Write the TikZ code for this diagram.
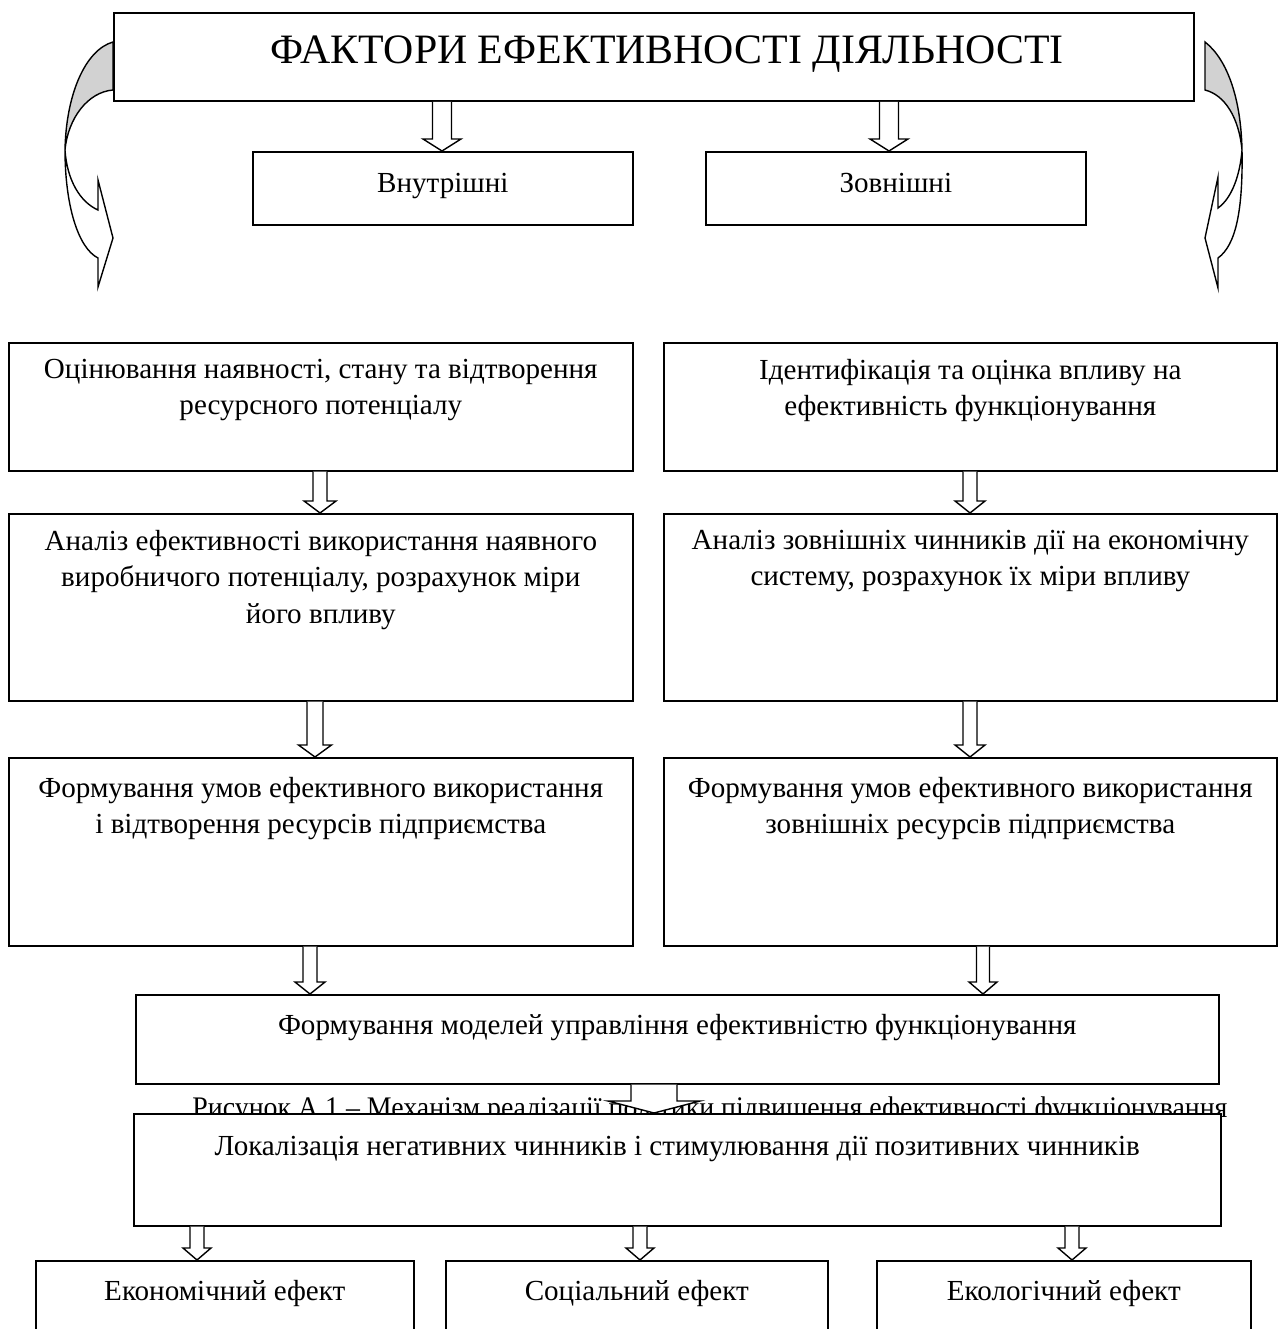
\documentclass[tikz,border=0pt]{standalone}
\usepackage{fontspec}
\setmainfont{Liberation Serif}
\usetikzlibrary{positioning,calc}
\pgfdeclarelayer{bg}
\pgfsetlayers{bg,main}

\tikzset{
  box/.style={draw, line width=1.6bp, fill=white, inner sep=0pt, anchor=north west},
  txt/.style={font=\fontsize{29.2}{36.5}\selectfont, align=center, inner sep=0pt},
  hollow/.style={draw, line width=1.4bp, fill=white, line join=miter},
  ribbon/.style={draw, line width=1.4bp, line join=miter},
}

% hollow block arrow: x, from node, to node, shaft half width, head half width
\newcommand{\hollowdown}[5]{%
  \path (#2.south -| #1,0) coordinate (aa) (#3.north -| #1,0) coordinate (bb);
  \draw[hollow] ($(aa)+(-#4,0)$) -- ($(bb)+(-#4,-12)$) -- ($(bb)+(-#5,-12)$) -- (bb)
    -- ($(bb)+(#5,-12)$) -- ($(bb)+(#4,-12)$) -- ($(aa)+(#4,0)$);
}

\begin{document}
\begin{tikzpicture}[x=1bp, y=-1bp]
    \useasboundingbox (0,0) rectangle (1278,1329);

    % Curved arrows
    \draw[ribbon, fill=gray!35] (113,42) .. controls (85,50) and (66,95) .. (65,150)
        .. controls (68,118) and (88,92) .. (113,90) -- cycle;
    \draw[ribbon, fill=white] (65,150) .. controls (65,205) and (78,248) .. (98,258)
        -- (98,287) -- (113,238) -- (98,180) -- (98,210)
        .. controls (80,202) and (67,180) .. (65,150) -- cycle;
    \draw[ribbon, fill=gray!35] (1205,42) .. controls (1228,60) and (1241,100) .. (1242,150)
        .. controls (1239,118) and (1225,95) .. (1205,90) -- cycle;
    \draw[ribbon, fill=white] (1242,150) .. controls (1243,210) and (1236,245) .. (1218,258)
        -- (1218,288) -- (1205,238) -- (1218,177) -- (1218,208)
        .. controls (1232,198) and (1240,175) .. (1242,150) -- cycle;

    % Title
    \node[box, line width=2bp, minimum width=1080bp, minimum height=88bp] (title) at (113,12) {};
    \node[txt, font=\fontsize{42}{48}\selectfont, below=24bp of title.north, xshift=13bp] (titlet) {ФАКТОРИ ЕФЕКТИВНОСТІ ДІЯЛЬНОСТІ};

    % Internal / external
    \node[box, minimum width=380bp, minimum height=73bp] (vnut) at (252,151) {};
    \node[txt, below=22bp of vnut.north] (vnutt) {Внутрішні};
    \node[box, minimum width=380bp, minimum height=73bp] (zovn) at (705,151) {};
    \node[txt, below=22bp of zovn.north] (zovnt) {Зовнішні};
    \hollowdown{442}{title}{vnut}{9.5}{19}
    \hollowdown{889}{title}{zovn}{9.5}{19}

    % Row 1
    \node[box, minimum width=624bp, minimum height=128bp] (ocin) at (8,342) {};
    \node[txt, below=17bp of ocin.north] (ocint) {Оцінювання наявності, стану та відтворення\\ресурсного потенціалу};
    \node[box, minimum width=613bp, minimum height=128bp] (ident) at (663,342) {};
    \node[txt, below=17bp of ident.north] (identt) {Ідентифікація та оцінка впливу на\\ефективність функціонування};

    % Row 2
    \node[box, minimum width=624bp, minimum height=187bp] (analv) at (8,513) {};
    \node[txt, below=17bp of analv.north] (analvt) {Аналіз ефективності використання наявного\\виробничого потенціалу, розрахунок міри\\його впливу};
    \node[box, minimum width=613bp, minimum height=187bp] (analz) at (663,513) {};
    \node[txt, below=17bp of analz.north] (analzt) {Аналіз зовнішніх чинників дії на економічну\\систему, розрахунок їх міри впливу};
    \hollowdown{320}{ocin}{analv}{7}{16}
    \hollowdown{970}{ident}{analz}{7}{15}

    % Row 3
    \node[box, minimum width=624bp, minimum height=188bp] (formv) at (8,757) {};
    \node[txt, below=20bp of formv.north] (formvt) {Формування умов ефективного використання\\і відтворення ресурсів підприємства};
    \node[box, minimum width=613bp, minimum height=188bp] (formz) at (663,757) {};
    \node[txt, below=20bp of formz.north] (formzt) {Формування умов ефективного використання\\зовнішніх ресурсів підприємства};
    \hollowdown{315}{analv}{formv}{8}{16.5}
    \hollowdown{970}{analz}{formz}{7}{15}

    % Models
    \node[box, minimum width=1083bp, minimum height=89bp] (model) at (135,994) {};
    \node[txt, below=20bp of model.north] (modelt) {Формування моделей управління ефективністю функціонування};
    \hollowdown{310}{formv}{model}{7}{15}
    \hollowdown{983}{formz}{model}{6.5}{14}

    % Caption (behind)
    \begin{pgfonlayer}{bg}
    \node[txt, font=\fontsize{30}{34}\selectfont, anchor=base] (caption) at (710,1117)
        {\resizebox{1035bp}{\height}{Рисунок А.1 – Механізм реалізації політики підвищення ефективності функціонування}};
    \end{pgfonlayer}

    % Localisation
    \node[box, minimum width=1087bp, minimum height=112bp] (lokal) at (133,1113) {};
    \node[txt, below=23bp of lokal.north] (lokalt) {Локалізація негативних чинників і стимулювання дії позитивних чинників};
    \hollowdown{654}{model}{lokal}{23}{46}

    % Effects
    \node[box, minimum width=378bp, minimum height=80bp] (econ) at (35,1260) {};
    \node[txt, below=20bp of econ.north] (econt) {Економічний ефект};
    \node[box, minimum width=382bp, minimum height=80bp] (soc) at (445,1260) {};
    \node[txt, below=20bp of soc.north] (soct) {Соціальний ефект};
    \node[box, minimum width=374bp, minimum height=80bp] (ecol) at (876,1260) {};
    \node[txt, below=20bp of ecol.north] (ecolt) {Екологічний ефект};
    \hollowdown{197}{lokal}{econ}{7}{14}
    \hollowdown{640}{lokal}{soc}{7}{14}
    \hollowdown{1072}{lokal}{ecol}{7}{14}
\end{tikzpicture}
\end{document}
